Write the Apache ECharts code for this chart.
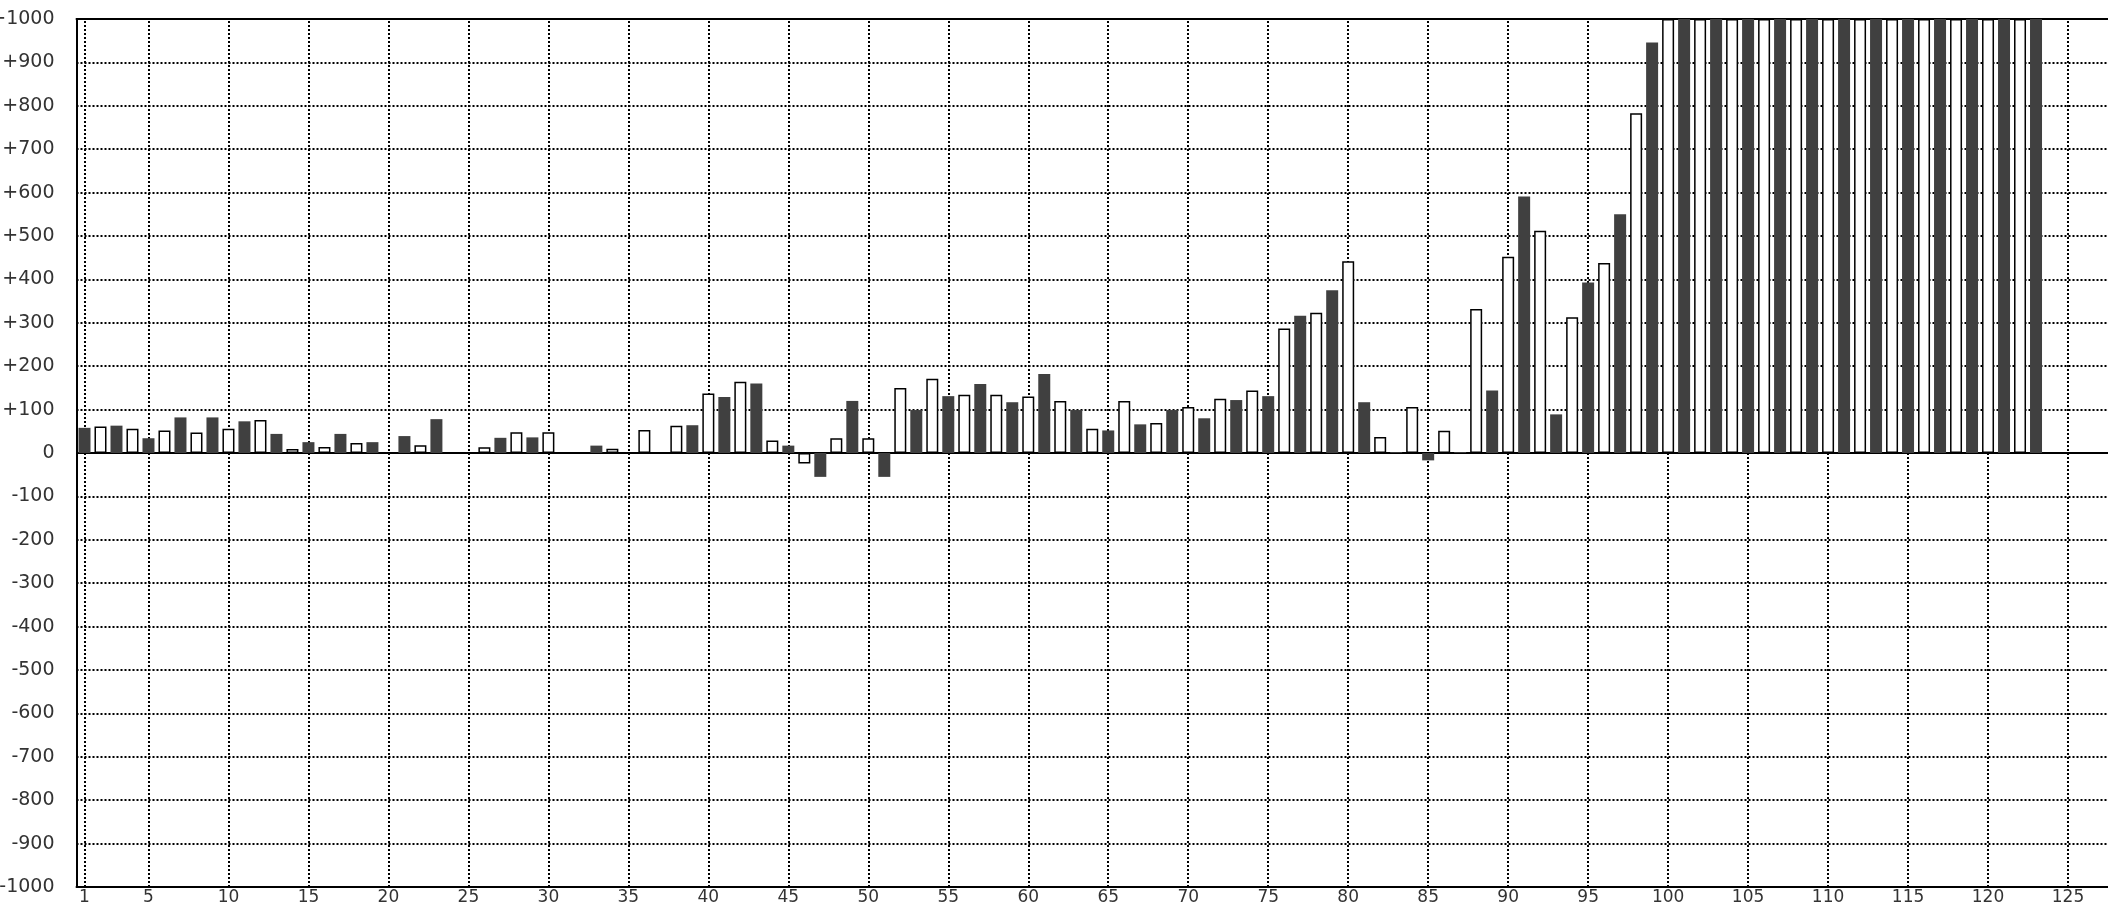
<!DOCTYPE html>
<html>
<head>
<meta charset="utf-8">
<script src="https://cdn.jsdelivr.net/npm/echarts@6/dist/echarts.min.js"></script>
<style>
html,body{margin:0;padding:0;background:#fff;}
#chart{width:2108px;height:908px;}
</style>
</head>
<body>
<div id="chart"></div>
<script>
// Categories 1..127
const categories = [];
for (let i = 1; i <= 127; i++) categories.push(String(i));

// Values per category (null = no bar)
const values1to40 = [58, 61, 63, 56, 34, 52, 82, 47, 82, 56,
  73, 76, 44, 9, 25, 14, 44, 23, 25, null,
  39, 18, 78, null, null, 13, 35, 48, 36, 48,
  null, null, 17, 10, null, 53, null, 63, 64, 137];
const values41to80 = [129, 164, 160, 29, 17, -24, -55, 34, 120, 34,
  -55, 150, 99, 171, 131, 134, 159, 134, 117, 130,
  182, 120, 99, 56, 52, 120, 66, 69, 99, 106,
  80, 125, 122, 144, 131, 287, 316, 323, 375, 442];
const values81to127 = [117, 37, 2, 106, -17, 51, 2, 332, 144, 452,
  591, 512, 89, 313, 393, 438, 550, 783, 946, 1000,
  1000, 1000, 1000, 1000, 1000, 1000, 1000, 1000, 1000, 1000,
  1000, 1000, 1000, 1000, 1000, 1000, 1000, 1000, 1000, 1000,
  1000, 1000, 1000, null, null, null, null];
const values = values1to40.concat(values41to80, values81to127);

// Labelled x positions (vertical grid lines)
const xTickLabels = ['1','5','10','15','20','25','30','35','40','45','50','55','60','65','70','75','80','85','90','95','100','105','110','115','120','125'];

const DARK = '#404040';
const barData = values.map((v, i) => {
  const odd = (i + 1) % 2 === 1;
  return {
    value: v,
    itemStyle: odd
      ? { color: DARK, borderWidth: 0 }
      : { color: '#ffffff', borderColor: '#000000', borderWidth: 1.5 }
  };
});

const dotted = { color: '#000', width: 2, type: [2, 2] };
const markData = xTickLabels.map(c => ({ xAxis: c, lineStyle: dotted }));
markData.push({ yAxis: 0, lineStyle: { color: '#000', width: 2, type: 'solid' } });

const chart = echarts.init(document.getElementById('chart'), null, { renderer: 'canvas' });
chart.setOption({
  animation: false,
  backgroundColor: '#ffffff',
  grid: { left: 76.5, right: 0, top: 19, bottom: 21, containLabel: false, outerBoundsMode: 'none' },
  xAxis: [
    {
      type: 'category',
      data: categories,
      position: 'bottom',
      boundaryGap: true,
      axisLine: { show: true, onZero: false, lineStyle: { color: '#000', width: 2 } },
      axisTick: { show: false },
      axisLabel: {
        interval: (idx) => idx === 0 || (idx + 1) % 5 === 0,
        margin: 2,
        color: '#333',
        fontFamily: 'DejaVu Sans',
        fontSize: 17
      },
      splitLine: { show: false }
    },
    {
      type: 'category',
      data: categories,
      position: 'top',
      boundaryGap: true,
      axisLine: { show: true, onZero: false, lineStyle: { color: '#000', width: 2 } },
      axisTick: { show: false },
      axisLabel: { show: false },
      splitLine: { show: false }
    }
  ],
  yAxis: {
    type: 'value',
    min: -1000,
    max: 1000,
    interval: 100,
    axisLine: { show: true, onZero: false, lineStyle: { color: '#000', width: 2 } },
    axisTick: { show: false },
    axisLabel: {
      margin: 22,
      color: '#333',
      fontFamily: 'DejaVu Sans',
      fontSize: 19,
      formatter: (v) => (v > 0 ? '+' + v : String(v))
    },
    splitLine: { show: true, lineStyle: dotted }
  },
  series: [
    {
      type: 'bar',
      xAxisIndex: 0,
      data: barData,
      barWidth: 12,
      z: 2,
      markLine: {
        z: 1,
        silent: true,
        symbol: ['none', 'none'],
        label: { show: false },
        animation: false,
        data: markData
      }
    }
  ]
});
</script>
</body>
</html>
